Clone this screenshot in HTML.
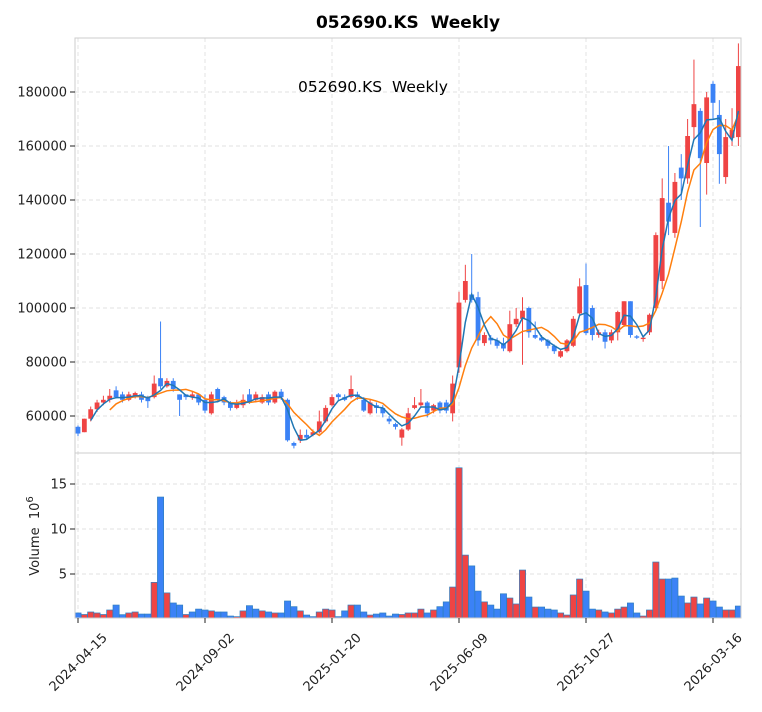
<!DOCTYPE html>
<html><head><meta charset="utf-8"><style>
html,body{margin:0;padding:0;background:#fff}
svg{display:block;font-family:"DejaVu Sans","Liberation Sans",sans-serif}
</style></head><body>
<svg id="s" width="762" height="712" viewBox="0 0 762 712" xmlns="http://www.w3.org/2000/svg">
<defs>
<clipPath id="c1"><rect x="75" y="38" width="666" height="415"/></clipPath>
<clipPath id="c2"><rect x="75" y="453" width="666" height="165"/></clipPath>
</defs>
<rect width="762" height="712" fill="#fff"/>
<g id="grid" stroke="#e0e0e0" stroke-dasharray="4,3" stroke-width="0.9"></g>
<g id="candles" clip-path="url(#c1)"></g>
<g id="vols" clip-path="url(#c2)"></g>
<g id="ma" clip-path="url(#c1)" fill="none" stroke-width="1.5"></g>
<rect x="75" y="38" width="666" height="415" fill="none" stroke="#ccc" stroke-width="1"/>
<rect x="75" y="453" width="666" height="165" fill="none" stroke="#ccc" stroke-width="1"/>
<g id="ticks" stroke="#222" stroke-width="1"></g>
<g id="labels" font-size="13" fill="#222"></g>
<text x="408" y="28" text-anchor="middle" font-size="17" font-weight="bold" fill="#000">052690.KS&#160; Weekly</text>
<text x="298" y="92" font-size="15.5" fill="#000">052690.KS&#160; Weekly</text>
<text transform="translate(39,536) rotate(-90)" text-anchor="middle" font-size="13" fill="#222">Volume&#160; 10<tspan dy="-6" font-size="10">6</tspan></text>
</svg>
<script>
var D=[[56,53.5,56.5,52.5],[54,59,59,54],[59,62.5,63.5,58],[62.5,65,66,61.5],[65,66,67.5,64],[66,67.5,70,65],[69.5,67,71,66.5],[68,66,69,65],[66,68,69,65.5],[67,68.5,69,66.5],[68,66,69,65],[67,65.5,67.5,63],[67,72,75,66.5],[74,71,95,70],[71,73,74,70.5],[73,70,74,69],[68,66,68,60],[68,67,68,66],[67,68,69,66],[68,65,68,64],[66,62,68,61],[61,68,69,60.5],[70,66,70.5,65],[67,65,67.5,64],[65,63,65.5,62],[63,65,66,62.5],[64,66,68,63],[68,65,70,64.5],[66,68,69,65],[65,67,68,64.5],[68,65,69,64],[65,69,69.5,64.5],[69,67,70,66],[66,51,66.5,50.5],[50,49,50.5,48],[51,53,55,50],[53,52,55,51.5],[53,54,55,52.5],[54,58,62,53.5],[58,63,64,57.5],[64,67,68,63.5],[68,67,68.5,66],[67,66,68,65.5],[67,70,75,66.5],[68,67,69,66],[66,62,67,61.5],[61,65,66,60.5],[64,63,65,61],[63,61,64,59.5],[59,58,60,57],[57,56,57.5,55],[52,55,55.5,49],[55,61,63,54.5],[63,64,67,62.5],[64,65,70,63],[65,61,65.5,59.5],[62,64,64.5,61],[65,62,65.5,61],[65,62,66,61],[61,72,75,58],[78,102,106,76],[103,110,116,102],[105,103,120,102],[104,88,106,86],[87,90,91,86],[89,88,90,86.5],[88,86,89,85],[87,85,89,84],[84,94,99,83.5],[94,96,100,93],[96,99,104,79],[100,91,100.5,89],[90,89,95,88.5],[89,88,90,87.5],[88,86,88.5,85],[86,84,86.5,83],[82,84,84.5,81.5],[84,88,88.5,83.5],[86,96,97,85.5],[98,108,111,97],[108.5,90.7,116.5,90],[100,90,101,88],[90,91,92,89],[91,87.5,92,85],[88,91,92,87],[91,98.5,99,88],[93.7,102.5,102.5,93],[102.5,90,102.5,89],[89.5,89,90,88.5],[88.5,89,89.5,87.5],[91,97.5,98,90],[100,127,128,99],[110,140.7,148,107],[139,132,160,127],[127.8,146.7,150,126],[152,148,157,140],[148,163.7,170,146],[167,175.5,192,162],[173,155.5,174,130],[153.7,178,180,142],[183,176,184,170],[171.5,157,177,146],[148.5,163.3,170,146],[163,166,174,160],[163.3,189.6,198,160]];
var V=[0.67,0.5,0.78,0.67,0.5,1.0,1.55,0.48,0.67,0.78,0.55,0.55,4.07,13.55,2.9,1.78,1.55,0.5,0.78,1.1,1.0,0.9,0.78,0.78,0.33,0.26,0.9,1.48,1.1,0.9,0.78,0.67,0.67,2.0,1.37,0.9,0.44,0.26,0.78,1.1,1.0,0.26,0.9,1.55,1.55,0.78,0.44,0.55,0.67,0.33,0.55,0.5,0.67,0.67,1.1,0.67,1.0,1.37,1.9,3.55,16.8,7.1,5.9,3.1,1.9,1.55,1.1,2.8,2.33,1.67,5.44,2.44,1.33,1.33,1.1,1.0,0.67,0.44,2.67,4.44,3.1,1.1,1.0,0.78,0.67,1.1,1.33,1.78,0.67,0.33,1.0,6.33,4.44,4.44,4.55,2.55,1.78,2.44,1.67,2.33,2.0,1.33,1.0,1.0,1.44];
var VC="brrrrrbbrrbbrbrbbrbbbrbbbrrbbrbrbbbrbbrrrbbrbbrbbbbrr"+"rrbrbbrrrbbrbbbrrrbrbbbrrrrbbrbrrrbbrrrrbbbrrbrbbrrb";
var RED="#ef4444",BLUE="#3b82f6",NS="http://www.w3.org/2000/svg";
function X(i){return 78+6.35*i}
function Y(v){return 416-(v-60)*2.7}
function VY(v){return 619-9*v}
function el(p,t,a){var e=document.createElementNS(NS,t);for(var k in a)e.setAttribute(k,a[k]);document.getElementById(p).appendChild(e);return e}
[60,80,100,120,140,160,180].forEach(function(v){el("grid","line",{x1:75,x2:741,y1:Y(v),y2:Y(v)})});
[5,10,15].forEach(function(v){el("grid","line",{x1:75,x2:741,y1:VY(v),y2:VY(v)})});
var xl=["2024-04-15","2024-09-02","2025-01-20","2025-06-09","2025-10-27","2026-03-16"];
xl.forEach(function(l,k){var x=X(20*k);el("grid","line",{x1:x,x2:x,y1:38,y2:618});
 el("ticks","line",{x1:x,x2:x,y1:618,y2:623});
 var cy=662;
 var t=el("labels","text",{x:x,y:cy+4.5,"text-anchor":"middle",transform:"rotate(-45 "+x+" "+cy+")"});t.textContent=l;});
[60,80,100,120,140,160,180].forEach(function(v){var y=Y(v);el("ticks","line",{x1:70,x2:75,y1:y,y2:y});
 var t=el("labels","text",{x:67,y:y+4.5,"text-anchor":"end"});t.textContent=(v*1000);});
[5,10,15].forEach(function(v){var y=VY(v);el("ticks","line",{x1:70,x2:75,y1:y,y2:y});
 var t=el("labels","text",{x:67,y:y+4.5,"text-anchor":"end"});t.textContent=v;});
D.forEach(function(d,i){var x=X(i),c=d[1]>=d[0]?RED:BLUE;
 el("candles","line",{x1:x,x2:x,y1:Y(d[2]),y2:Y(d[3]),stroke:c,"stroke-width":1});
 var t=Math.min(Y(d[0]),Y(d[1])),h=Math.max(Math.abs(Y(d[0])-Y(d[1])),1);
 el("candles","rect",{x:x-2.4,y:t,width:4.8,height:h,fill:c});
 el("vols","rect",{x:x-3.1,y:VY(V[i]),width:6.2,height:619-VY(V[i]),fill:VC[i]=="r"?RED:BLUE,stroke:"#2f7fc0","stroke-width":0.7});
});
function ma(n,col){var p="";for(var i=n-1;i<D.length;i++){var s=0;for(var j=0;j<n;j++)s+=D[i-j][1];p+=(p?"L":"M")+X(i).toFixed(1)+","+Y(s/n).toFixed(1);}el("ma","path",{d:p,stroke:col});}
ma(6,"#ff7f0e");ma(3,"#1f77b4");
</script>
</body></html>
